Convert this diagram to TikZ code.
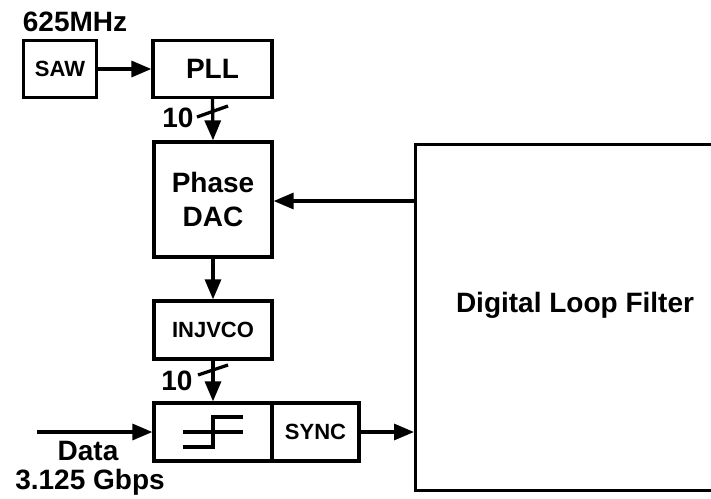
\documentclass[tikz,border=0pt]{standalone}
\usepackage{fontspec}
\setmainfont{Liberation Sans}
\usetikzlibrary{arrows.meta}
\begin{document}
\begin{tikzpicture}[x=1pt,y=-1pt,
  every node/.style={font=\bfseries},
  blk/.style={draw,line width=3.3pt,inner sep=0pt,anchor=center},
  big/.style={font=\fontsize{28}{34}\selectfont\bfseries},
  small/.style={font=\fontsize{22}{26}\selectfont\bfseries},
  conn/.style={line width=3.3pt,-{Triangle[length=20pt,width=16pt]}},
  wire/.style={line width=3.3pt}]
\useasboundingbox (0,0) rectangle (711,498);
\clip (0,0) rectangle (711,498);
% blocks
\node[blk,small,minimum width=73pt,minimum height=57pt] (saw) at (60,69) {SAW};
\node[blk,big,minimum width=119pt,minimum height=57pt] (pll) at (212.5,69) {PLL};
\node[blk,big,minimum width=118pt,minimum height=115pt,align=center] (dac) at (213,199.5) {Phase\\DAC};
\node[blk,small,minimum width=118pt,minimum height=58pt] (vco) at (213,330) {INJVCO};
\node[blk,minimum width=118pt,minimum height=58pt] (cmp) at (213,432) {};
\node[blk,small,minimum width=87pt,minimum height=58pt] (sync) at (315.5,432) {SYNC};
\node[blk,big,minimum width=330pt,minimum height=346pt,anchor=north west] (dlf) at (414,143) {};
\node[big] (dlftxt) at (575,305) {Digital Loop Filter};
% labels
\node[big] (f625) at (75,22) {625MHz};
\node[big] (data) at (88,451) {Data};
\node[big] (rate) at (90,482) {3.125 Gbps};
\node[big] (n1) at (178,118) {10};
\node[big] (n2) at (177,381) {10};
% comparator symbol
\coordinate (c1) at (183,447);
\coordinate (c2) at (213,447);
\coordinate (c3) at (213,417);
\coordinate (c4) at (243,417);
\coordinate (c5) at (183,432);
\coordinate (c6) at (243,432);
\draw[wire] (c1) -- (c2) -- (c3) -- (c4);
\draw[wire] (c5) -- (c6);
% connectors
\draw[conn] (saw.east) -- (pll.west);
\draw[conn] (pll.south) -- (dac.north);
\draw[conn] (dac.south) -- (vco.north);
\draw[conn] (vco.south) -- (cmp.north);
\draw[conn] (dlf.west |- 0,201) -- (dac.east |- 0,201);
\draw[conn] (sync.east) -- (dlf.west |- sync.east);
\coordinate (din) at (37,432);
\draw[conn] (din) -- (cmp.west);
% bus slashes
\coordinate (s1a) at (197,117);
\coordinate (s1b) at (228,106);
\coordinate (s2a) at (198,375);
\coordinate (s2b) at (228,365);
\draw[wire] (s1a) -- (s1b);
\draw[wire] (s2a) -- (s2b);
\end{tikzpicture}
\end{document}
